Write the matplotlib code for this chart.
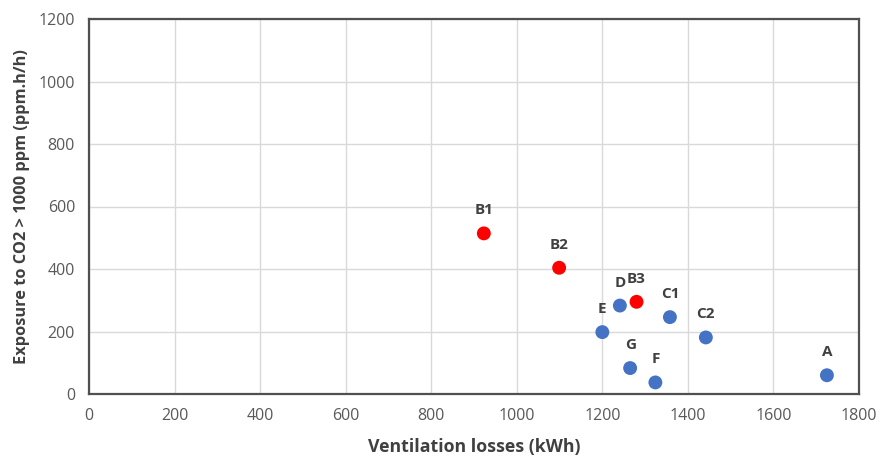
import matplotlib.pyplot as plt

# cases and their values
labels = ['B1', 'B2', 'B3', 'D', 'E', 'C1', 'C2', 'G', 'F', 'A']
vent_losses = [923, 1099, 1280, 1241, 1200, 1358, 1442, 1265, 1324, 1725]
exposure = [514, 404, 295, 283, 198, 246, 181, 83, 37, 60]
colors = ['#FF0000', '#FF0000', '#FF0000', '#4472C4', '#4472C4', '#4472C4',
          '#4472C4', '#4472C4', '#4472C4', '#4472C4']

fig = plt.figure(figsize=(8.81, 4.58), dpi=100)
ax = fig.add_axes([89 / 881, 64 / 458, 770 / 881, 375 / 458])

ax.scatter(vent_losses, exposure, s=100, c=colors, zorder=3, linewidths=0)

for lab, x, y in zip(labels, vent_losses, exposure):
    ax.annotate(lab, (x, y), xytext=(0, 23), textcoords='offset pixels',
                ha='center', va='center', fontsize=11, fontweight='bold',
                color='#404040', family='Open Sans')

ax.set_xlim(0, 1800)
ax.set_ylim(0, 1200)
ax.set_xticks(range(0, 1801, 200))
ax.set_yticks(range(0, 1201, 200))
ax.grid(True, color='#D9D9D9', linewidth=1)
ax.set_axisbelow(True)
ax.tick_params(length=0, labelsize=11.5, labelcolor='#595959', pad=10)
for t in ax.get_xticklabels() + ax.get_yticklabels():
    t.set_family('Open Sans')
for sp in ax.spines.values():
    sp.set_color('#505050')
    sp.set_linewidth(1.6)

ax.set_xlabel('Ventilation losses (kWh)', fontsize=12.8, fontweight='bold',
              color='#404040', family='Open Sans', labelpad=10)
ax.set_ylabel('Exposure to CO2 > 1000 ppm (ppm.h/h)', fontsize=11.8,
              fontweight='bold', color='#404040', family='Open Sans', labelpad=6)

fig.savefig('out.png', dpi=100)
